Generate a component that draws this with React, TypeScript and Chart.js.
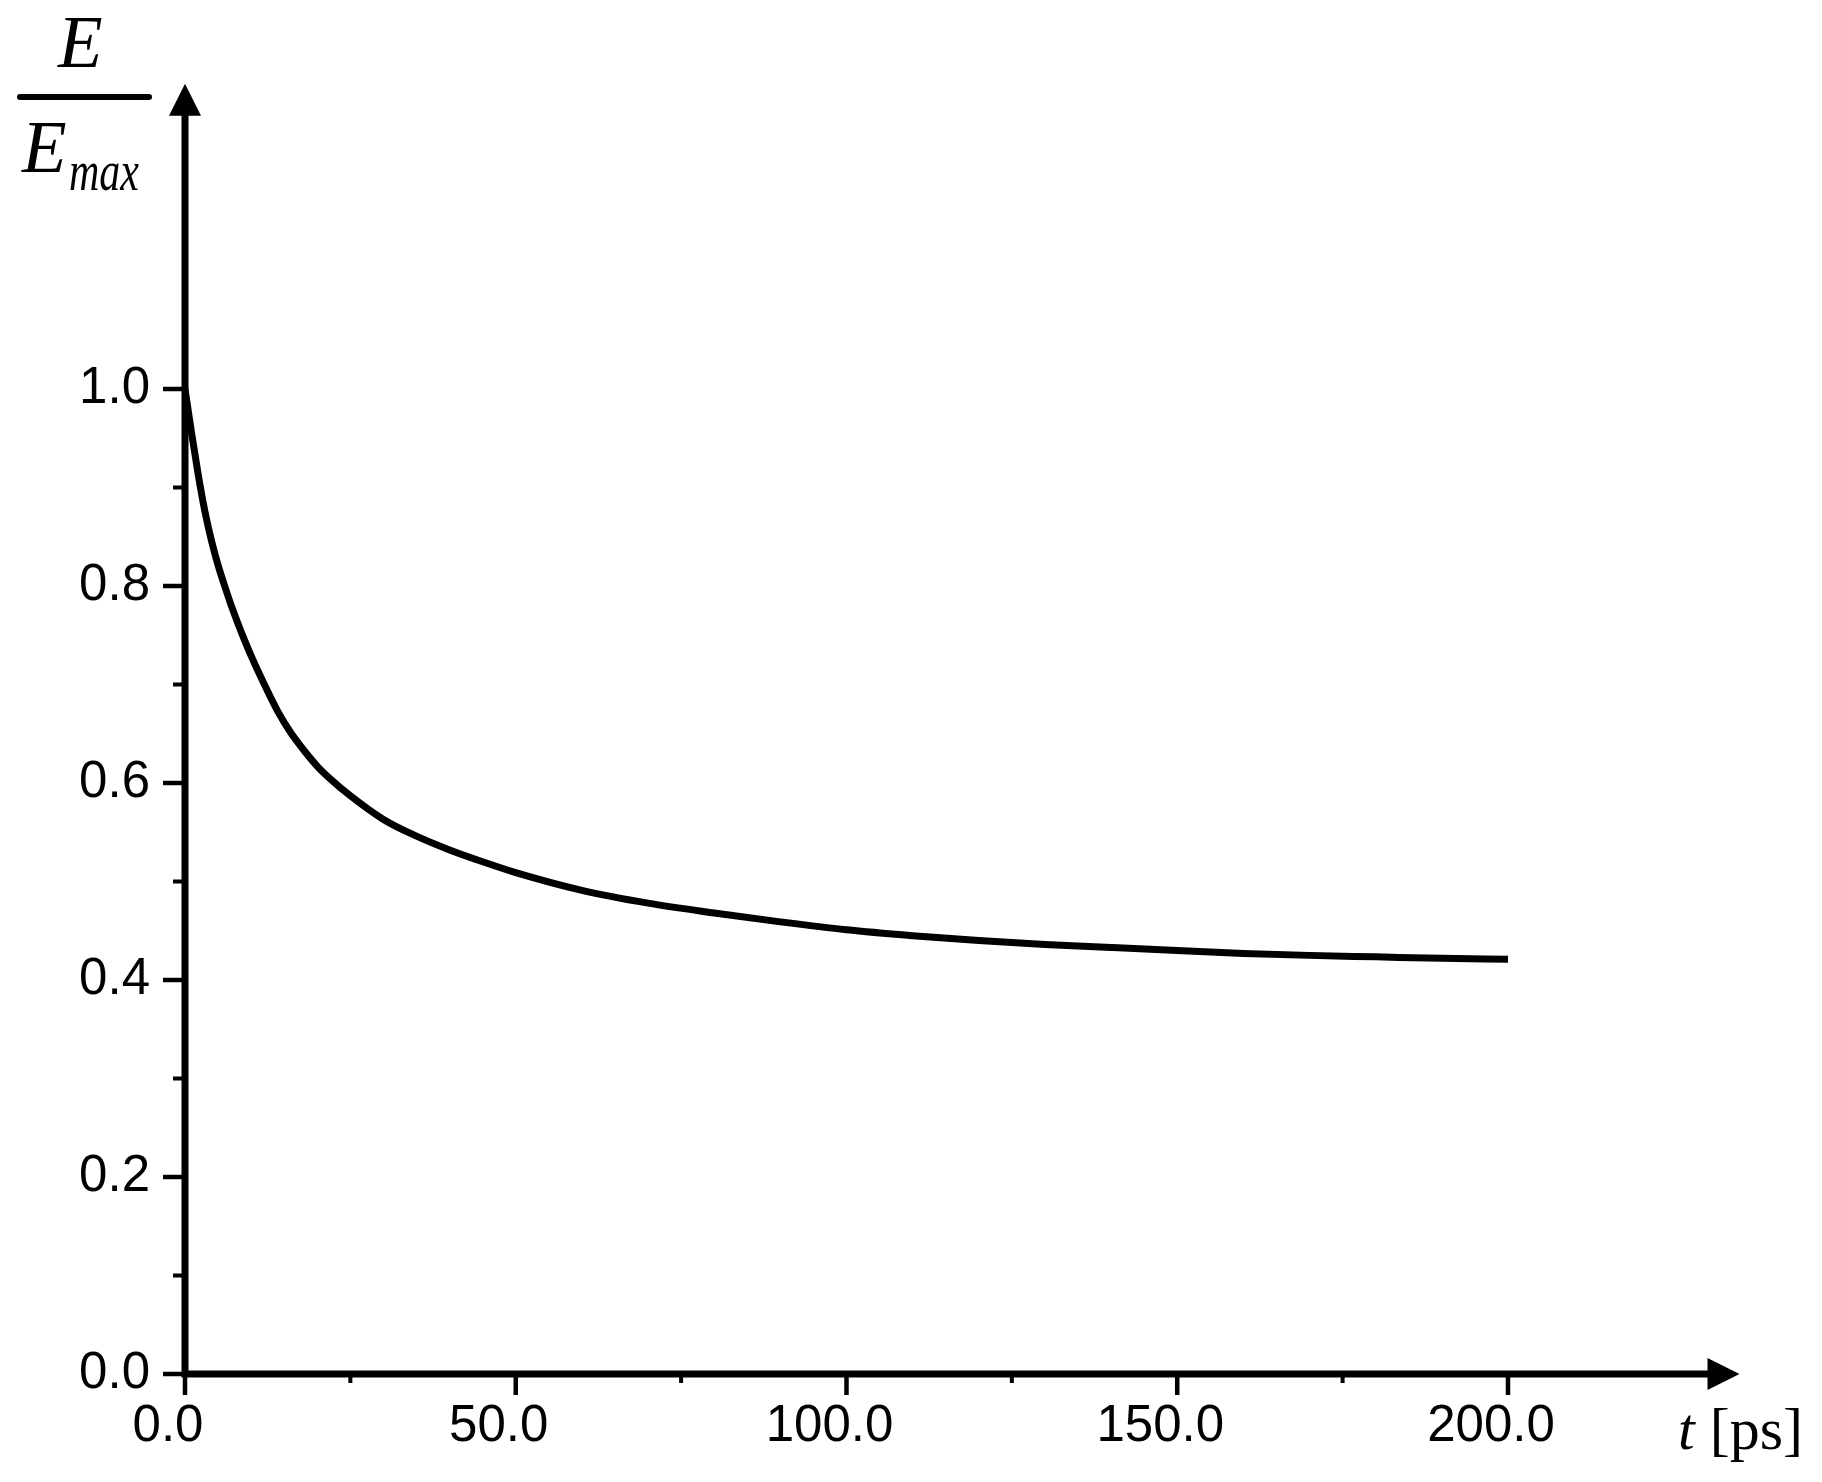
import React, { useEffect, useRef } from "react";
import { Chart, registerables } from "chart.js";

Chart.register(...registerables);

// ---- data ----
const timePs = [0, 1, 2, 3, 4, 5, 6, 7, 8, 9, 10, 12, 14, 16, 18, 20, 22, 25, 30, 35, 40, 45, 50, 60, 70, 80, 90, 100, 110, 120, 130, 140, 150, 160, 170, 180, 190, 200];
const energyRatio = [1.0, 0.955, 0.913, 0.876, 0.846, 0.821, 0.8, 0.78, 0.762, 0.745, 0.729, 0.7, 0.673, 0.651, 0.633, 0.617, 0.604, 0.587, 0.563, 0.546, 0.532, 0.52, 0.509, 0.491, 0.478, 0.468, 0.459, 0.451, 0.445, 0.44, 0.436, 0.433, 0.43, 0.427, 0.425, 0.4235, 0.422, 0.421];

const xMajorTicks = [0, 50, 100, 150, 200];
const xMinorTicks = [25, 75, 125, 175];
const yMajorTicks = [0, 0.2, 0.4, 0.6, 0.8, 1.0];
const yMinorTicks = [0.1, 0.3, 0.5, 0.7, 0.9];

const W = 1822;
const H = 1482;

const axesPlugin = {
  id: "arrowAxes",
  beforeDatasetsDraw(chart: any) {
    const ctx = chart.ctx;
    const xs = chart.scales.x;
    const ys = chart.scales.y;
    const x0 = xs.getPixelForValue(0);
    const y0 = ys.getPixelForValue(0);
    const top = chart.chartArea.top;
    const right = chart.chartArea.right;
    const arrowLen = 32;
    const arrowHalf = 16;
    ctx.save();
    ctx.strokeStyle = "#000";
    ctx.fillStyle = "#000";
    ctx.lineCap = "butt";
    // ticks
    ctx.lineWidth = 4.5;
    ctx.beginPath();
    xMajorTicks.forEach((v) => {
      const p = xs.getPixelForValue(v);
      ctx.moveTo(p, y0);
      ctx.lineTo(p, y0 + 21);
    });
    yMajorTicks.forEach((v) => {
      const p = ys.getPixelForValue(v);
      ctx.moveTo(x0, p);
      ctx.lineTo(x0 - 22, p);
    });
    ctx.stroke();
    ctx.lineWidth = 4;
    ctx.beginPath();
    xMinorTicks.forEach((v) => {
      const p = xs.getPixelForValue(v);
      ctx.moveTo(p, y0);
      ctx.lineTo(p, y0 + 9);
    });
    yMinorTicks.forEach((v) => {
      const p = ys.getPixelForValue(v);
      ctx.moveTo(x0, p);
      ctx.lineTo(x0 - 12, p);
    });
    ctx.stroke();
    // axis lines
    ctx.lineWidth = 7;
    ctx.beginPath();
    ctx.moveTo(x0 - 3.5, y0);
    ctx.lineTo(right - arrowLen + 2, y0);
    ctx.moveTo(x0, y0 + 3.5);
    ctx.lineTo(x0, top + arrowLen - 2);
    ctx.stroke();
    // arrow heads
    ctx.beginPath();
    ctx.moveTo(right, y0);
    ctx.lineTo(right - arrowLen, y0 - arrowHalf);
    ctx.lineTo(right - arrowLen, y0 + arrowHalf);
    ctx.closePath();
    ctx.fill();
    ctx.beginPath();
    ctx.moveTo(x0, top);
    ctx.lineTo(x0 - arrowHalf, top + arrowLen);
    ctx.lineTo(x0 + arrowHalf, top + arrowLen);
    ctx.closePath();
    ctx.fill();
    ctx.restore();
  },
  afterDraw(chart: any) {
    const ctx = chart.ctx;
    ctx.save();
    ctx.fillStyle = "#000";
    ctx.strokeStyle = "#000";
    ctx.textAlign = "left";
    ctx.textBaseline = "alphabetic";
    // y-axis title: E / E_max
    ctx.font = "italic 73px 'Liberation Serif'";
    ctx.fillText("E", 58, 67);
    ctx.lineWidth = 6;
    ctx.lineCap = "round";
    ctx.beginPath();
    ctx.moveTo(20, 97);
    ctx.lineTo(149, 97);
    ctx.stroke();
    ctx.fillText("E", 22, 172);
    ctx.save();
    ctx.translate(69, 190);
    ctx.scale(0.75, 1);
    ctx.font = "italic 56px 'Liberation Serif'";
    ctx.fillText("max", 0, 0);
    ctx.restore();
    // x-axis title: t [ps]
    ctx.font = "italic 60px 'Liberation Serif'";
    ctx.fillText("t", 1678, 1449);
    const tw = ctx.measureText("t").width;
    ctx.font = "60px 'Liberation Serif'";
    ctx.fillText(" [ps]", 1678 + tw, 1449);
    ctx.restore();
  },
};

export default function App() {
  const canvasRef = useRef<HTMLCanvasElement | null>(null);

  useEffect(() => {
    const canvas = canvasRef.current;
    if (!canvas) return;
    const points = timePs.map((t, i) => ({ x: t, y: energyRatio[i] }));
    const chart = new Chart(canvas, {
      type: "line",
      data: {
        datasets: [
          {
            data: points,
            borderColor: "#000",
            borderWidth: 7,
            pointRadius: 0,
            cubicInterpolationMode: "monotone",
            fill: false,
          },
        ],
      },
      options: {
        animation: false,
        responsive: false,
        maintainAspectRatio: false,
        devicePixelRatio: 1,
        layout: { padding: { top: 83.65, right: 82.5, left: 0, bottom: 0 } },
        plugins: { legend: { display: false }, tooltip: { enabled: false }, title: { display: false } },
        scales: {
          x: {
            type: "linear",
            position: "bottom",
            min: 0,
            max: 235,
            grid: { display: false, drawTicks: false },
            border: { display: false },
            afterBuildTicks: (scale: any) => {
              scale.ticks = xMajorTicks.map((v) => ({ value: v }));
            },
            afterFit: (scale: any) => {
              scale.height = 108;
            },
            ticks: {
              color: "#000",
              padding: 22,
              labelOffset: -17,
              maxRotation: 0,
              autoSkip: false,
              font: { family: "'Liberation Sans'", size: 51 },
              callback: (v: any) => Number(v).toFixed(1),
            },
          },
          y: {
            type: "linear",
            min: 0,
            max: 1.31,
            grid: { display: false, drawTicks: false },
            border: { display: false },
            afterBuildTicks: (scale: any) => {
              scale.ticks = yMajorTicks.map((v) => ({ value: v }));
            },
            afterFit: (scale: any) => {
              scale.width = 185;
            },
            ticks: {
              color: "#000",
              padding: 35,
              autoSkip: false,
              font: { family: "'Liberation Sans'", size: 51 },
              callback: (v: any) => Number(v).toFixed(1),
            },
          },
        },
      },
      plugins: [axesPlugin],
    } as any);
    return () => chart.destroy();
  }, []);

  return (
    <div style={{ position: "absolute", left: 0, top: 0, width: W, height: H, background: "#fff" }}>
      <canvas ref={canvasRef} width={W} height={H} style={{ display: "block", width: W, height: H }} />
    </div>
  );
}
